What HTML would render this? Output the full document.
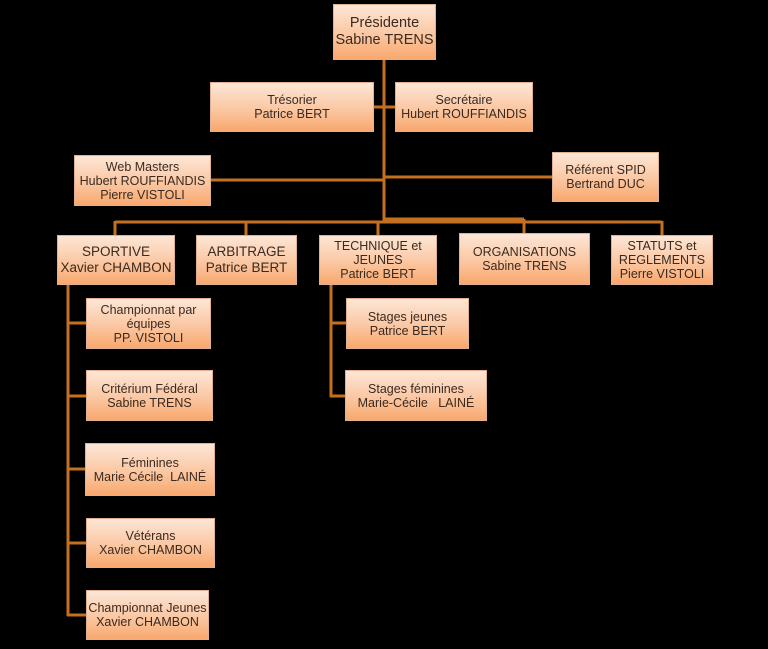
<!DOCTYPE html>
<html><head><meta charset="utf-8"><style>
html,body{margin:0;padding:0;background:#000;}
body{width:768px;height:649px;position:relative;overflow:hidden;font-family:"Liberation Sans Narrow","Liberation Sans",sans-serif;}
.b{position:absolute;box-sizing:border-box;background:linear-gradient(#fde6d6,#fbc7a2 55%,#f8a86e);border:1px solid #e0b090;display:flex;align-items:center;justify-content:center;text-align:center;color:#3a2a20;font-size:12.5px;line-height:14px;}
svg{position:absolute;left:0;top:0;}
</style></head><body>
<svg width="768" height="649"><g stroke="#c4701f" stroke-width="3" fill="none">
<line x1="384" y1="60" x2="384" y2="222"/>
<line x1="374" y1="107" x2="395" y2="107"/>
<line x1="211" y1="180" x2="384" y2="180"/>
<line x1="384" y1="177" x2="552" y2="177"/>
<line x1="115" y1="222" x2="662" y2="222"/>
<line x1="384" y1="219" x2="524" y2="219"/>
<line x1="115" y1="221" x2="115" y2="235"/>
<line x1="246" y1="221" x2="246" y2="235"/>
<line x1="378" y1="221" x2="378" y2="235"/>
<line x1="524" y1="219" x2="524" y2="235"/>
<line x1="662" y1="221" x2="662" y2="235"/>
<line x1="68" y1="285" x2="68" y2="616"/>
<line x1="67" y1="323" x2="86" y2="323"/>
<line x1="67" y1="396" x2="86" y2="396"/>
<line x1="67" y1="469" x2="86" y2="469"/>
<line x1="67" y1="543" x2="86" y2="543"/>
<line x1="67" y1="615" x2="86" y2="615"/>
<line x1="331" y1="285" x2="331" y2="397"/>
<line x1="330" y1="323" x2="346" y2="323"/>
<line x1="330" y1="396" x2="346" y2="396"/>
</g></svg>
<div class="b" style="left:333px;top:4px;width:103px;height:56px;font-size:14.5px;line-height:17px">Présidente<br>Sabine TRENS</div>
<div class="b" style="left:210px;top:82px;width:164px;height:50px">Trésorier<br>Patrice BERT</div>
<div class="b" style="left:395px;top:82px;width:138px;height:50px">Secrétaire<br>Hubert ROUFFIANDIS</div>
<div class="b" style="left:74px;top:155px;width:137px;height:51px">Web Masters<br>Hubert ROUFFIANDIS<br>Pierre VISTOLI</div>
<div class="b" style="left:552px;top:152px;width:107px;height:50px">Référent SPID<br>Bertrand DUC</div>
<div class="b" style="left:57px;top:235px;width:118px;height:50px;font-size:13.5px;line-height:16px">SPORTIVE<br>Xavier CHAMBON</div>
<div class="b" style="left:196px;top:235px;width:101px;height:50px;font-size:13.5px;line-height:16px">ARBITRAGE<br>Patrice BERT</div>
<div class="b" style="left:319px;top:235px;width:118px;height:50px">TECHNIQUE et<br>JEUNES<br>Patrice BERT</div>
<div class="b" style="left:459px;top:233px;width:131px;height:52px">ORGANISATIONS<br>Sabine TRENS</div>
<div class="b" style="left:611px;top:235px;width:102px;height:50px">STATUTS et<br>REGLEMENTS<br>Pierre VISTOLI</div>
<div class="b" style="left:86px;top:298px;width:125px;height:51px">Championnat par<br>équipes<br>PP. VISTOLI</div>
<div class="b" style="left:86px;top:370px;width:127px;height:51px">Critérium Fédéral<br>Sabine TRENS</div>
<div class="b" style="left:85px;top:443px;width:130px;height:53px">Féminines<br>Marie Cécile&nbsp; LAINÉ</div>
<div class="b" style="left:86px;top:518px;width:129px;height:50px">Vétérans<br>Xavier CHAMBON</div>
<div class="b" style="left:86px;top:590px;width:123px;height:50px">Championnat Jeunes<br>Xavier CHAMBON</div>
<div class="b" style="left:346px;top:298px;width:123px;height:51px">Stages jeunes<br>Patrice BERT</div>
<div class="b" style="left:345px;top:370px;width:142px;height:51px">Stages féminines<br>Marie-Cécile&nbsp;&nbsp; LAINÉ</div>
</body></html>
